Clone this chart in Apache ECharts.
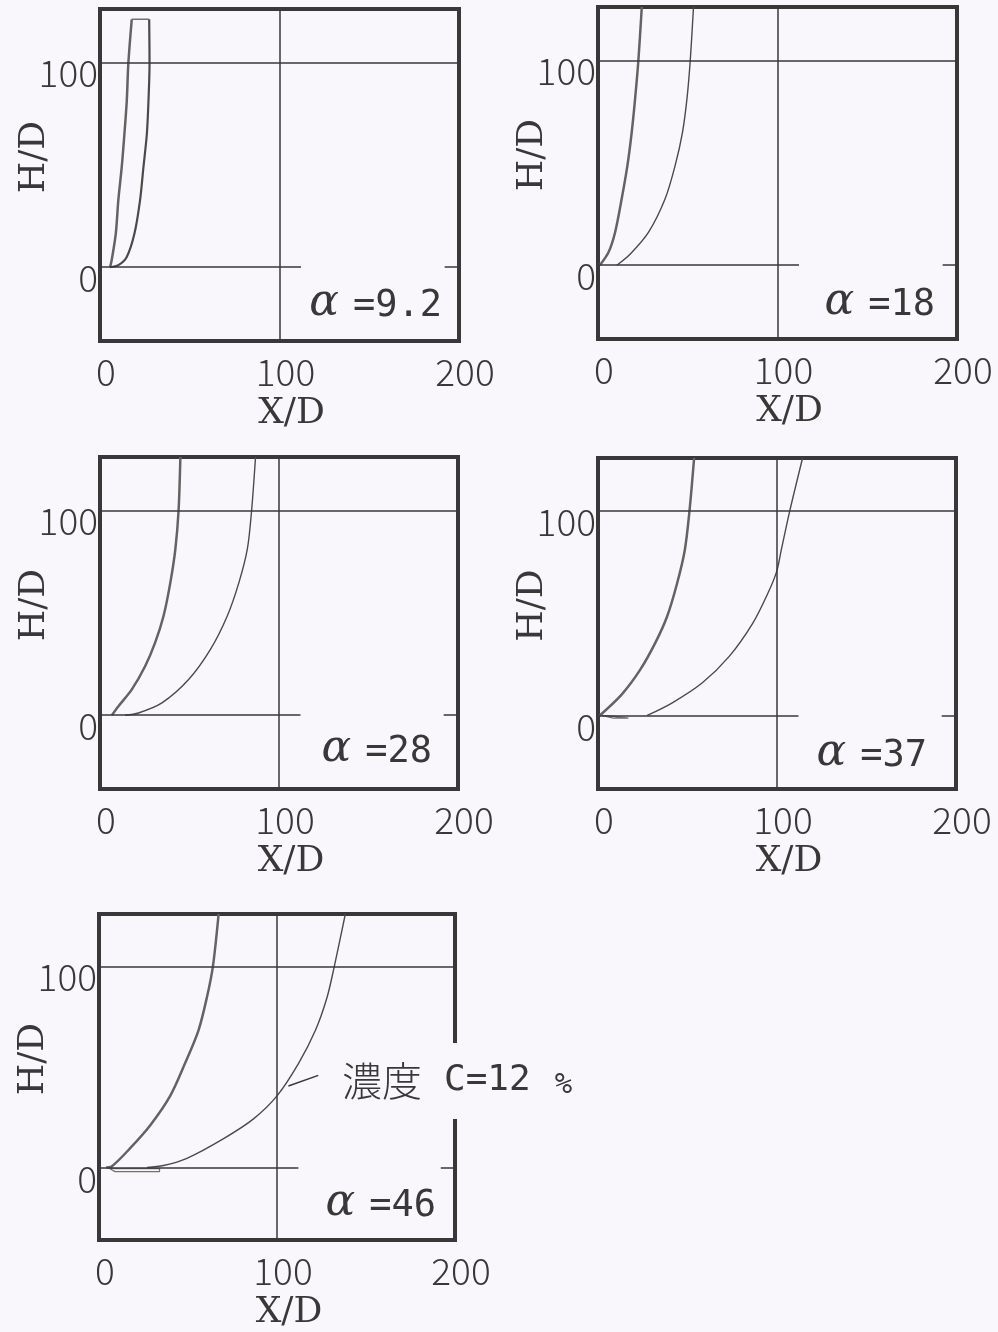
<!DOCTYPE html>
<html><head><meta charset="utf-8">
<script src="https://cdn.jsdelivr.net/npm/echarts@6/dist/echarts.min.js"></script>
<style>html,body{margin:0;padding:0;background:#f9f7fb}#c{width:998px;height:1332px}</style>
</head><body><div id="c"></div><script>
// ---- data ----
const xTicks = [0, 100, 200];
const yTicks = [0, 100];
const xRange = [0, 200];
const yRange = [-36, 126];
const alphaLabels = ['9.2', '18', '28', '37', '46'];
const concLabel = 'C=12';

const p1Inner = [[5.6,0],[6.5,3.4],[8.8,16.4],[10.2,32.6],[12.1,48.8],[13.6,65],[14.9,81],[15.8,99.6],[17.7,121]];
const p1Outer = [[5.6,0],[10.2,1],[14.9,5],[19.2,16.4],[22.3,32.6],[24.2,48.8],[26.1,65],[27.0,81],[27.6,99.6],[27.4,121]];
const p1Cap   = [[17.7,121],[27.4,121]];

const p2Inner = [[1.0,0],[5.8,6.2],[9.5,16],[13.2,32.4],[16.4,48.7],[18.8,65],[20.7,81.5],[22.5,100],[24.4,126]];
const p2Outer = [[10.5,0],[18.0,5.5],[28.1,16],[37.4,32.4],[43.0,48.7],[47.1,65],[49.6,81.5],[51.4,100],[53.2,126]];

const p3Inner = [[6.6,0],[10.3,4.4],[17.8,12.6],[25.2,23.9],[30.8,35.4],[35.5,48.4],[39.3,64.7],[42.1,81],[43.9,100],[44.9,126]];
const p3Outer = [[14,0],[21.5,1.1],[34.6,6],[49.5,17.4],[61.7,32.1],[71.1,48.4],[77.6,64.7],[82.3,81],[84.7,100],[86.9,126]];

const p4Inner = [[1.0,0],[13.2,10.2],[23.6,22.4],[32,35.5],[38.6,48.4],[44.2,64.7],[48.5,81],[51.1,100],[53.7,126]];
const p4Outer = [[27.5,0],[41.5,6.2],[58.3,16],[73.3,28.9],[86.5,45.2],[94.9,59.8],[99.8,70.4],[102.4,81],[107.1,100],[114.3,126]];
const p4Foot  = [[2,0],[8.5,-1.3],[17,-1.3],[17,-0.4],[8.5,-0.4],[2,0]];

const p5Inner = [[4,0],[7.1,0.5],[17.4,9.5],[28.7,20.9],[40,35.6],[48.4,51.9],[55.9,68.2],[60.6,84.5],[64,100],[67.2,126]];
const p5Outer = [[27,0],[36.2,1],[49.4,4.6],[70,14.4],[86.8,24.2],[100,35.6],[112.2,51.9],[121.6,68.2],[128.1,84.5],[132.2,100],[138.4,126]];
const p5Foot  = [[5,0],[9,-2],[34,-2],[34,-0.5],[9,-0.5],[5,0]];
const p5Leader = [[106.4,40.5],[123.2,45.8]];

// reference lines (data coords)
const h0Line = [[0,0],[112,0]];
const h0Tick = [[192,0],[200,0]];
const h100Line = [[0,100],[200,100]];
const x100Line = [[100,-36],[100,126]];

// ---- layout ----
const BG = '#f9f7fb';
const INK = '#383838';
const grids = [
  {left:100, top:9,   width:359, height:332},
  {left:598, top:7,   width:359, height:332},
  {left:100, top:457, width:358, height:332},
  {left:598, top:458, width:358, height:331},
  {left:99,  top:914, width:356, height:333}
];
const alphaPos = [[442,306],[935,305],[432,752],[927,756],[436,1206]];

const panels = [
  {inner:p1Inner, outer:p1Outer, extra:[p1Cap]},
  {inner:p2Inner, outer:p2Outer, extra:[]},
  {inner:p3Inner, outer:p3Outer, extra:[]},
  {inner:p4Inner, outer:p4Outer, extra:[p4Foot]},
  {inner:p5Inner, outer:p5Outer, extra:[p5Foot]}
];

const tickFont = {fontFamily:'Noto Sans CJK JP', fontSize:37, color:INK, fontWeight:300};
const nameFont = {fontFamily:'DejaVu Serif', fontSize:36, color:INK};

const xAxis = [], yAxis = [], series = [];
grids.forEach((g, i) => {
  xAxis.push({
    type:'value', gridIndex:i, min:xRange[0], max:xRange[1],
    axisLine:{show:false}, axisTick:{show:false}, splitLine:{show:false},
    axisLabel:Object.assign({customValues:xTicks, margin:14, lineHeight:34, padding:[0,0,0,12]}, tickFont),
    name:'X/D', nameLocation:'middle', nameGap:56,
    nameTextStyle:Object.assign({padding:[0,0,0,24], lineHeight:34}, nameFont)
  });
  yAxis.push({
    type:'value', gridIndex:i, min:yRange[0], max:yRange[1],
    axisLine:{show:false}, axisTick:{show:false}, splitLine:{show:false},
    axisLabel:Object.assign({customValues:yTicks, margin:2, verticalAlign:'top', lineHeight:22}, tickFont),
    name:'H/D', nameLocation:'middle', nameGap:48, nameMoveOverlap:false,
    nameTextStyle:Object.assign({padding:[0,0,0,36], lineHeight:34}, nameFont)
  });
  const p = panels[i];
  const ml = {
    silent:true, symbol:'none', label:{show:false}, animation:false,
    lineStyle:{color:INK, width:1.5, type:'solid'},
    emphasis:{disabled:true},
    data:[h0Line, h0Tick, h100Line, x100Line].map(l => [{coord:l[0]}, {coord:l[1]}])
  };
  series.push({
    type:'line', xAxisIndex:i, yAxisIndex:i, data:p.inner, symbol:'none', smooth:0.3,
    lineStyle:{color:'#636363', width:2.5}, markLine:ml, z:3
  });
  series.push({
    type:'line', xAxisIndex:i, yAxisIndex:i, data:p.outer, symbol:'none', smooth:0.3,
    lineStyle:{color:'#4a4a4a', width:i === 0 ? 2.2 : 1.4}, z:3
  });
  p.extra.forEach(d => series.push({
    type:'line', xAxisIndex:i, yAxisIndex:i, data:d, symbol:'none',
    lineStyle:{color:'#707070', width:1.3}, z:3
  }));
});
series.push({
  type:'line', xAxisIndex:4, yAxisIndex:4, data:p5Leader, symbol:'none',
  lineStyle:{color:INK, width:1.5}, z:4
});

const graphic = alphaLabels.map((a, i) => ({
  type:'text', x:alphaPos[i][0], y:alphaPos[i][1], z:10,
  style:{
    text:'{a|α}{s| }{b|=' + a + '}',
    align:'right', verticalAlign:'middle', fill:INK,
    rich:{
      a:{fontFamily:'DejaVu Serif', fontStyle:'italic', fontSize:44, fill:INK, padding:[0,0,4,0]},
      s:{width:14},
      b:{fontFamily:'DejaVu Sans Mono', fontSize:37, fill:INK}
    }
  }
}));
graphic.push({
  type:'text', x:338, y:1081, z:10,
  style:{
    text:'{j|濃度}{s| }{c|' + concLabel + '}{t| }{p|%}',
    align:'left', verticalAlign:'middle', fill:INK,
    backgroundColor:BG, padding:[18,4,18,4],
    rich:{
      j:{fontFamily:'Noto Sans CJK JP', fontSize:40, fill:INK, fontWeight:300},
      s:{width:22},
      t:{width:24},
      c:{fontFamily:'DejaVu Sans Mono', fontSize:36, fill:INK},
      p:{fontFamily:'DejaVu Sans Mono', fontSize:29, fill:INK, padding:[8,0,0,0]}
    }
  }
});

const chart = echarts.init(document.getElementById('c'), null, {renderer:'canvas'});
chart.setOption({
  backgroundColor:BG,
  animation:false,
  grid:grids.map(g => Object.assign({show:true, borderColor:INK, borderWidth:4, backgroundColor:'transparent', containLabel:false}, g)),
  xAxis, yAxis, series, graphic
});
</script></body></html>
